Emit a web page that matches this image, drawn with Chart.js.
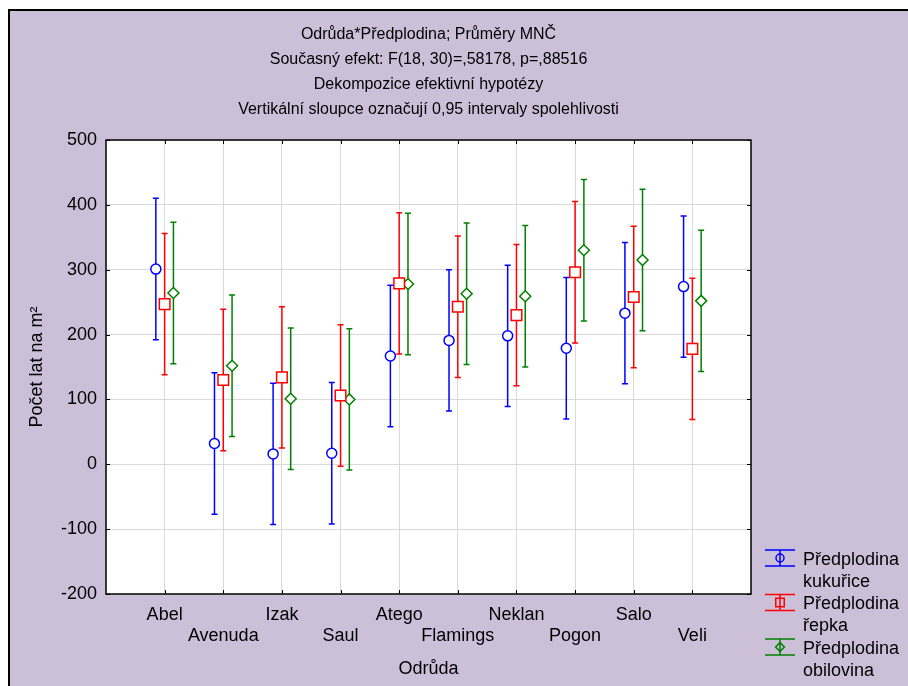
<!DOCTYPE html>
<html>
<head>
<meta charset="utf-8">
<script src="https://cdn.jsdelivr.net/npm/chart.js@4.4.1/dist/chart.umd.min.js"></script>
<style>
  html, body { margin: 0; padding: 0; background: #fff; }
  canvas { display: block; }
</style>
</head>
<body>
<canvas id="meansChart" width="908" height="686"></canvas>
<script>
const categories = ["Abel", "Avenuda", "Izak", "Saul", "Atego", "Flamings", "Neklan", "Pogon", "Salo", "Veli"];
const kukurice = [301, 32, 16, 17, 167, 191, 198, 179, 233, 274];
const repka = [247, 130, 134, 106, 279, 243, 230, 296, 258, 178];
const obilovina = [264, 152, 101, 100, 278, 263, 259, 330, 315, 252];
// half width of the 0,95 interval, one per series
const halfInterval = [109, 109, 109];
const seriesNames = [["Předplodina", "kukuřice"], ["Předplodina", "řepka"], ["Předplodina", "obilovina"]];
const yTicks = [-200, -100, 0, 100, 200, 300, 400, 500];
const titleLines = [
  "Odrůda*Předplodina; Průměry MNČ",
  "Současný efekt: F(18, 30)=,58178, p=,88516",
  "Dekompozice efektivní hypotézy",
  "Vertikální sloupce označují 0,95 intervaly spolehlivosti"
];

const colors = ["#0000ff", "#ff0000", "#008000"];
const styles = ["circle", "rect", "rectRot"];
const radii = [5, 7.5, 5.5];
const offsets = [-0.15, 0, 0.15];
const fontName = "'Liberation Sans', Arial, sans-serif";

function toPoints(values, offset) {
  return values.map((v, i) => ({ x: i + 1 + offset, y: v }));
}

const seriesValues = [kukurice, repka, obilovina];
const datasets = seriesValues.map((values, i) => ({
  label: seriesNames[i].join(" "),
  data: toPoints(values, offsets[i]),
  errorHalf: halfInterval[i],
  borderColor: colors[i],
  backgroundColor: "#ffffff",
  pointStyle: styles[i],
  pointRadius: radii[i],
  pointHoverRadius: radii[i],
  pointBorderWidth: 1.5,
  showLine: false
}));

// white page, lavender panel, white plot area, black frame with inward ticks
const framePlugin = {
  id: "frame",
  beforeDraw(chart) {
    const { ctx, width, height, chartArea: a } = chart;
    ctx.save();
    ctx.fillStyle = "#ffffff";
    ctx.fillRect(0, 0, width, height);
    ctx.fillStyle = "#ccc0d9";
    ctx.fillRect(9, 10, width - 9, height - 10);
    ctx.strokeStyle = "#000";
    ctx.lineWidth = 2;
    ctx.beginPath();
    ctx.moveTo(9, height);
    ctx.lineTo(9, 10);
    ctx.lineTo(width, 10);
    ctx.stroke();
    ctx.fillStyle = "#ffffff";
    ctx.fillRect(a.left, a.top, a.right - a.left, a.bottom - a.top);
    ctx.restore();
  },
  beforeDatasetsDraw(chart) {
    const { ctx, chartArea: a, scales } = chart;
    ctx.save();
    ctx.strokeStyle = "#000";
    ctx.lineWidth = 1.5;
    ctx.strokeRect(a.left, a.top, a.right - a.left, a.bottom - a.top);
    ctx.lineWidth = 1;
    ctx.beginPath();
    yTicks.forEach((t) => {
      const y = Math.round(scales.y.getPixelForValue(t)) + 0.5;
      ctx.moveTo(a.left, y);
      ctx.lineTo(a.left + 4, y);
      ctx.moveTo(a.right - 4, y);
      ctx.lineTo(a.right, y);
    });
    categories.forEach((c, i) => {
      const x = Math.round(scales.x.getPixelForValue(i + 1)) + 0.5;
      ctx.moveTo(x, a.top);
      ctx.lineTo(x, a.top + 4);
      ctx.moveTo(x, a.bottom - 4);
      ctx.lineTo(x, a.bottom);
    });
    ctx.stroke();
    ctx.restore();
  }
};

const errorBarPlugin = {
  id: "errorBars",
  beforeDatasetsDraw(chart) {
    const ctx = chart.ctx;
    const yScale = chart.scales.y;
    chart.data.datasets.forEach((ds, i) => {
      const meta = chart.getDatasetMeta(i);
      ctx.save();
      ctx.strokeStyle = ds.borderColor;
      ctx.lineWidth = 1.5;
      ctx.beginPath();
      meta.data.forEach((pt, j) => {
        const v = ds.data[j].y;
        const top = yScale.getPixelForValue(v + ds.errorHalf);
        const bottom = yScale.getPixelForValue(v - ds.errorHalf);
        ctx.moveTo(pt.x, top);
        ctx.lineTo(pt.x, bottom);
        ctx.moveTo(pt.x - 3, top);
        ctx.lineTo(pt.x + 3, top);
        ctx.moveTo(pt.x - 3, bottom);
        ctx.lineTo(pt.x + 3, bottom);
      });
      ctx.stroke();
      ctx.restore();
    });
  }
};

// legend with two-line labels and error bar symbols
const legendPlugin = {
  id: "twoLineLegend",
  afterDraw(chart) {
    const { ctx, chartArea: a } = chart;
    const x0 = a.right + 14;
    ctx.save();
    chart.data.datasets.forEach((ds, i) => {
      const cy = 558 + i * 44.5;
      const cx = x0 + 15;
      ctx.strokeStyle = ds.borderColor;
      ctx.lineWidth = 1.5;
      ctx.beginPath();
      ctx.moveTo(x0, cy - 8);
      ctx.lineTo(x0 + 30, cy - 8);
      ctx.moveTo(x0, cy + 8);
      ctx.lineTo(x0 + 30, cy + 8);
      ctx.moveTo(cx, cy - 8);
      ctx.lineTo(cx, cy + 8);
      ctx.stroke();
      ctx.fillStyle = "rgba(0,0,0,0)";
      Chart.helpers.drawPoint(ctx, {
        pointStyle: ds.pointStyle,
        radius: ds.pointRadius * 0.8,
        borderWidth: 1.5,
        rotation: 0
      }, cx, cy);
      ctx.fillStyle = "#000";
      ctx.font = "18px " + fontName;
      ctx.textAlign = "left";
      ctx.textBaseline = "middle";
      seriesNames[i].forEach((line, k) => {
        ctx.fillText(line, x0 + 38, cy + 2 + k * 22);
      });
    });
    ctx.restore();
  }
};

const chartCtx = document.getElementById("meansChart").getContext("2d");
const meansChart = new Chart(chartCtx, {
  type: "scatter",
  data: { datasets: datasets },
  plugins: [framePlugin, errorBarPlugin, legendPlugin],
  options: {
    responsive: false,
    animation: false,
    events: [],
    layout: { padding: { left: 0, top: 0, right: 157, bottom: 0 } },
    plugins: {
      legend: { display: false },
      tooltip: { enabled: false },
      title: {
        display: true,
        fullSize: false,
        text: titleLines,
        color: "#000",
        font: { family: fontName, size: 16, weight: "normal", lineHeight: "25px" },
        padding: { top: 22.5, bottom: 17.5 }
      }
    },
    scales: {
      x: {
        type: "linear",
        min: 0,
        max: 11,
        afterFit(scale) { scale.height = 92; },
        afterBuildTicks(scale) {
          scale.ticks = categories.map((c, i) => ({ value: i + 1 }));
        },
        grid: { color: "#d9d9d9", drawTicks: false, lineWidth: 1 },
        border: { display: false },
        ticks: {
          autoSkip: false,
          maxRotation: 0,
          padding: 10,
          color: "#000",
          font: { family: fontName, size: 18 },
          callback(value) {
            const i = Math.round(value) - 1;
            return i % 2 === 0 ? [categories[i], ""] : ["", categories[i]];
          }
        },
        title: {
          display: true,
          text: "Odrůda",
          color: "#000",
          font: { family: fontName, size: 18 },
          padding: { top: 0, bottom: 6 }
        }
      },
      y: {
        min: -200,
        max: 500,
        afterFit(scale) { scale.width = 106; },
        afterBuildTicks(scale) {
          scale.ticks = yTicks.map((v) => ({ value: v }));
        },
        grid: { color: "#d9d9d9", drawTicks: false, lineWidth: 1 },
        border: { display: false },
        ticks: {
          padding: 9,
          color: "#000",
          font: { family: fontName, size: 18 }
        },
        title: {
          display: true,
          text: "Počet lat na m²",
          color: "#000",
          font: { family: fontName, size: 18 },
          padding: { top: 26, bottom: 0 }
        }
      }
    }
  }
});
</script>
</body>
</html>
